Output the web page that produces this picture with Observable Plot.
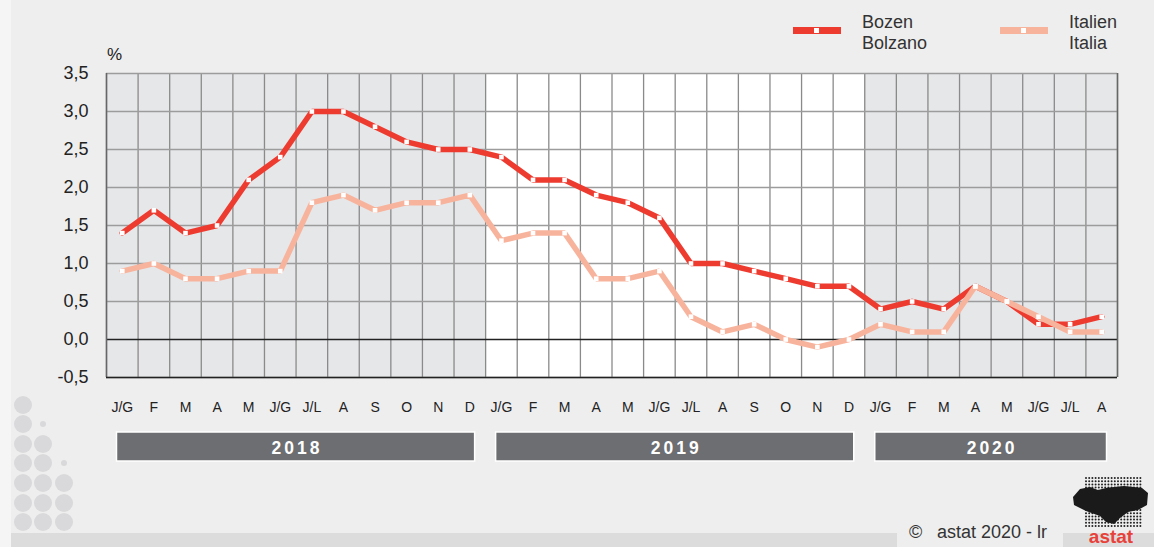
<!DOCTYPE html>
<html><head><meta charset="utf-8">
<script src="https://cdn.jsdelivr.net/npm/d3@7"></script>
<script src="https://cdn.jsdelivr.net/npm/@observablehq/plot@0.6"></script>
<style>
body{margin:0;background:#eeeeee;overflow:hidden;}
#chart svg{display:block;}
</style>
</head><body><div id="chart"></div>
<script>
// ---- data ----
const monthLabels = ["J/G","F","M","A","M","J/G","J/L","A","S","O","N","D"];
const years = [2018, 2019, 2020];
const monthsPerYear = [12, 12, 8];
const bozen = [1.4,1.7,1.4,1.5,2.1,2.4,3.0,3.0,2.8,2.6,2.5,2.5,
               2.4,2.1,2.1,1.9,1.8,1.6,1.0,1.0,0.9,0.8,0.7,0.7,
               0.4,0.5,0.4,0.7,0.5,0.2,0.2,0.3];
const italien = [0.9,1.0,0.8,0.8,0.9,0.9,1.8,1.9,1.7,1.8,1.8,1.9,
                 1.3,1.4,1.4,0.8,0.8,0.9,0.3,0.1,0.2,0.0,-0.1,0.0,
                 0.2,0.1,0.1,0.7,0.5,0.3,0.1,0.1];
const yTicks = [-0.5,0,0.5,1,1.5,2,2.5,3,3.5];
const seriesNames = [["Bozen","Bolzano"],["Italien","Italia"]];

// ---- tables ----
const months = [];
years.forEach((y, yi) => { for (let m = 0; m < monthsPerYear[yi]; m++) months.push({i: months.length + 0.5, year: y, label: monthLabels[m]}); });
const n = months.length;
const rows = (arr) => arr.map((v, i) => ({i: i + 0.5, v}));
let start = 0;
const yearTable = years.map((y, yi) => { const o = {year: y, x1: start, x2: start + monthsPerYear[yi], idx: yi}; start += monthsPerYear[yi]; return o; });

const RED = "#ee3b30", SALMON = "#f8b39c";
const W = 1154, H = 547;
const FONT = "'Liberation Sans', Arial, sans-serif";
const fmt = (v) => d3.format(".1f")(v).replace(".", ",").replace("−", "-");
const yMin = yTicks[0], yMax = yTicks[yTicks.length - 1];

const chart = Plot.plot({
  width: W, height: H,
  marginLeft: 106, marginRight: 37, marginTop: 73, marginBottom: 170,
  style: {fontFamily: FONT, background: "transparent", color: "#222"},
  x: {domain: [0, n], label: null, axis: null},
  y: {domain: [yMin, yMax], label: null, axis: null},
  marks: [
    Plot.rect(yearTable, {x1: "x1", x2: "x2", y1: yMin, y2: yMax, fill: d => d.idx % 2 === 0 ? "#e6e7e9" : "#ffffff"}),
    Plot.ruleX(d3.range(0, n + 1), {stroke: "#8a8a8a", strokeWidth: 1.3}),
    Plot.ruleY(yTicks.filter(v => v !== 0), {stroke: "#9c9c9c", strokeWidth: 1.3}),
    Plot.ruleY([0], {stroke: "#222", strokeWidth: 1.3}),
    Plot.ruleX([0], {stroke: "#666", strokeWidth: 1.5}),
    Plot.ruleX([n], {stroke: "#666", strokeWidth: 1.5}),
    Plot.ruleY([yMin], {stroke: "#222", strokeWidth: 1.5}),
    Plot.line(rows(bozen), {x: "i", y: "v", stroke: RED, strokeWidth: 5.5, strokeLinejoin: "miter"}),
    Plot.line(rows(italien), {x: "i", y: "v", stroke: SALMON, strokeWidth: 5.5, strokeLinejoin: "miter"}),
    Plot.dot(rows(bozen), {x: "i", y: "v", symbol: "square", r: 2.6, fill: "white", stroke: "none"}),
    Plot.dot(rows(italien), {x: "i", y: "v", symbol: "square", r: 2.6, fill: "white", stroke: "none"}),
    // y tick labels
    Plot.text(yTicks, {x: 0, y: d => d, text: fmt, textAnchor: "end", dx: -18, fontSize: 18, fill: "#222"}),
    // x tick labels (month initials)
    Plot.text(months, {x: "i", y: yMin, text: "label", dy: 30, fontSize: 14, fill: "#222"})
  ]
});
document.getElementById("chart").appendChild(chart);

// ---- decorations via the chart's own scales ----
const sx = chart.scale("x").apply, sy = chart.scale("y").apply;
const svg = d3.select(chart);
const deco = svg.append("g").attr("text-anchor", "start").attr("font-family", FONT);

// left light strip
svg.insert("rect", ":first-child").attr("x", 0).attr("y", 0).attr("width", 11).attr("height", H).attr("fill", "#f5f5f5");

// bottom strip
deco.append("rect").attr("x", 11).attr("y", 533).attr("width", W - 11).attr("height", 14).attr("fill", "#dcdcdc");

// decorative circles bottom-left
const rowsY = [405, 424, 444, 463, 483, 503, 522];
const g = deco.append("g").attr("fill", "#d9d9db");
rowsY.forEach((y, r) => {
  g.append("circle").attr("cx", 23).attr("cy", y).attr("r", 9);
  if (r === 1) g.append("circle").attr("cx", 43).attr("cy", y).attr("r", 3);
  if (r >= 2) g.append("circle").attr("cx", 43).attr("cy", y).attr("r", 9);
  if (r === 3) g.append("circle").attr("cx", 64).attr("cy", y).attr("r", 3);
  if (r >= 4) g.append("circle").attr("cx", 64).attr("cy", y).attr("r", 9);
});

// "%" label
deco.append("text").attr("x", sx(0) + 1).attr("y", 60).attr("font-size", 17).attr("fill", "#222").text("%");

// year bars
const yb = deco.append("g");
yearTable.forEach(d => {
  const x1 = sx(d.x1) + 10.5, x2 = sx(d.x2) - 10.5;
  yb.append("rect").attr("x", x1).attr("y", 432).attr("width", x2 - x1).attr("height", 29)
    .attr("fill", "#6d6e71").attr("stroke", "#ffffff").attr("stroke-width", 1.5);
  yb.append("text").attr("x", (x1 + x2) / 2 + 1.5).attr("y", 454).attr("text-anchor", "middle")
    .attr("font-size", 17.5).attr("font-weight", "bold").attr("letter-spacing", 3).attr("fill", "#fff").text(d.year);
});

// legend
const lg = deco.append("g").attr("font-size", 18).attr("fill", "#333");
[[RED, 793, 862], [SALMON, 1000, 1069]].forEach(([c, x, tx], k) => {
  lg.append("rect").attr("x", x).attr("y", 27).attr("width", 48).attr("height", 7).attr("fill", c);
  lg.append("rect").attr("x", x + 21).attr("y", 28).attr("width", 5).attr("height", 5).attr("fill", "#fff");
  lg.append("text").attr("x", tx).attr("y", 28).text(seriesNames[k][0]);
  lg.append("text").attr("x", tx).attr("y", 49).text(seriesNames[k][1]);
});

// copyright box
deco.append("rect").attr("x", 897).attr("y", 518).attr("width", 166).attr("height", 29).attr("fill", "#eeeeee");
deco.append("text").attr("x", 909).attr("y", 538).attr("font-size", 18).attr("fill", "#333").text("©");
deco.append("text").attr("x", 937).attr("y", 538).attr("font-size", 18).attr("fill", "#333").text("astat 2020 - lr");

// logo
const logo = deco.append("g");
for (let yy = 478; yy <= 528; yy += 3.2) {
  for (let xx = 1086; xx <= 1142; xx += 3.2) {
    logo.append("circle").attr("cx", xx).attr("cy", yy).attr("r", 1).attr("fill", "#222");
  }
}
logo.append("path").attr("d", "M1073,497 L1080,489 L1090,487 L1098,490 L1106,488 L1114,487 L1124,486 L1134,487 L1142,488 L1148,493 L1147,505 L1138,510 L1128,512 L1120,518 L1114,524 L1106,522 L1100,516 L1086,511 L1074,505 Z").attr("fill", "#1a1a1a");
logo.append("text").attr("x", 1111).attr("y", 543).attr("text-anchor", "middle").attr("font-size", 19).attr("font-weight", "bold").attr("fill", "#e8413a").text("astat");
</script>
</body></html>
